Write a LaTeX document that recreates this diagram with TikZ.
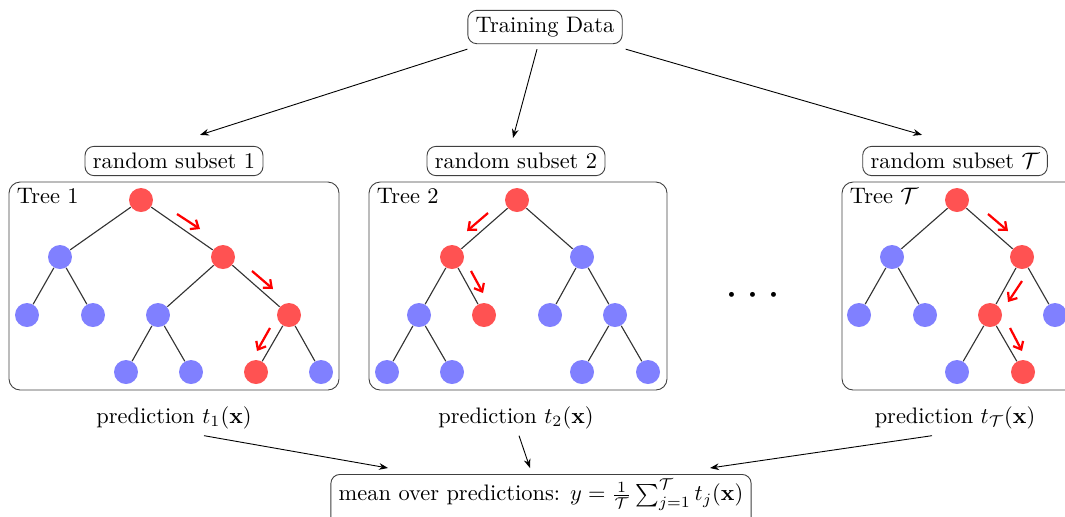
\documentclass[tikz,border=0pt]{standalone}
\usetikzlibrary{calc,arrows.meta}
\definecolor{nred}{HTML}{FF5252}
\definecolor{nblue}{HTML}{8080FF}
\begin{document}
\begin{tikzpicture}[x=0.446pt,y=-0.446pt,
  box/.style={draw=black!75, rounded corners=4pt, inner xsep=3.5pt, inner ysep=3pt, fill=white},
  treebox/.style={draw=black!75, rounded corners=5pt},
  rn/.style={circle, fill=nred, minimum size=10.7pt, inner sep=0pt},
  bn/.style={circle, fill=nblue, minimum size=10.7pt, inner sep=0pt},
  edge/.style={draw=black!80, line width=0.5pt},
  conn/.style={-{Stealth[length=4pt,width=3pt]}, black, line width=0.4pt},
  walk/.style={-{Straight Barb[length=3pt,width=5pt]}, red, line width=1pt},
  pred/.style={inner sep=0pt}]
\clip (0,0) rectangle (1065,516);
% top
\node[box] (td) at (545,27) {Training Data};
\node[box] (s1) at (174,161) {random subset 1};
\node[box] (s2) at (516,161) {random subset 2};
\node[box] (sT) at (955,161) {random subset $\mathcal{T}$};
\draw[conn] ($(td.south west)+(0,5)$) -- ($(s1.north)+(26,-11)$);
\draw[conn] ($(td.south)+(-8,5)$) -- ($(s2.north)+(-3,-8)$);
\draw[conn] ($(td.south east)+(3,5)$) -- ($(sT.north)+(-33,-11)$);
% tree boxes
\draw[treebox] (9,182) rectangle (339,390);
\draw[treebox] (369,182) rectangle (667,390);
\draw[treebox] (842,182) rectangle (1090,390);
\node[anchor=west] (l1) at (9,196) {Tree 1};
\node[anchor=west] (l2) at (369,196) {Tree 2};
\node[anchor=west] (lT) at (842,196) {Tree $\mathcal{T}$};
% tree 1
\node[rn] (a0) at (141,200) {};
\node[bn] (a1) at (60,257) {};
\node[rn] (a2) at (223,257) {};
\node[bn] (a3) at (27,315) {};
\node[bn] (a4) at (93,315) {};
\node[bn] (a5) at (158,315) {};
\node[rn] (a6) at (289,315) {};
\node[bn] (a7) at (126,372) {};
\node[bn] (a8) at (191,372) {};
\node[rn] (a9) at (256,372) {};
\node[bn] (a10) at (321,372) {};
\foreach \u/\v in {a0/a1,a0/a2,a1/a3,a1/a4,a2/a5,a2/a6,a5/a7,a5/a8,a6/a9,a6/a10}
  \draw[edge] (\u) -- (\v);
\draw[walk] (177,214) -- (200,229);
\draw[walk] (252,271) -- (273,289);
\draw[walk] (270,328) -- (257,351);
% tree 2
\node[rn] (b0) at (517,200) {};
\node[rn] (b1) at (452,257) {};
\node[bn] (b2) at (582,257) {};
\node[bn] (b3) at (419,315) {};
\node[rn] (b4) at (484,315) {};
\node[bn] (b5) at (550,315) {};
\node[bn] (b6) at (615,315) {};
\node[bn] (b7) at (387,372) {};
\node[bn] (b8) at (452,372) {};
\node[bn] (b9) at (582,372) {};
\node[bn] (b10) at (648,372) {};
\foreach \u/\v in {b0/b1,b0/b2,b1/b3,b1/b4,b2/b5,b2/b6,b3/b7,b3/b8,b6/b9,b6/b10}
  \draw[edge] (\u) -- (\v);
\draw[walk] (488,213) -- (467,231);
\draw[walk] (471,271) -- (483,293);
% tree T
\node[rn] (c0) at (957,200) {};
\node[bn] (c1) at (892,257) {};
\node[rn] (c2) at (1022,257) {};
\node[bn] (c3) at (859,315) {};
\node[bn] (c4) at (925,315) {};
\node[rn] (c5) at (990,315) {};
\node[bn] (c6) at (1055,315) {};
\node[bn] (c7) at (957,372) {};
\node[rn] (c8) at (1023,372) {};
\foreach \u/\v in {c0/c1,c0/c2,c1/c3,c1/c4,c2/c5,c2/c6,c5/c7,c5/c8}
  \draw[edge] (\u) -- (\v);
\draw[walk] (988,214) -- (1008,231);
\draw[walk] (1022,281) -- (1008,302);
\draw[walk] (1010,328) -- (1022,351);
% dots
\node (dots) at (753,296) {\huge $\cdots$};
% predictions
\node[pred] (p1) at (174,418) {prediction $t_1(\mathbf{x})$};
\node[pred] (p2) at (516,418) {prediction $t_2(\mathbf{x})$};
\node[pred] (pT) at (955,418) {prediction $t_{\mathcal{T}}(\mathbf{x})$};
\node[box, inner ysep=2pt, text depth=10pt, anchor=north] (m) at (541,474) {mean over predictions: $y=\frac{1}{\mathcal{T}}\sum_{j=1}^{\mathcal{T}} t_j(\mathbf{x})$};
\draw[conn] ($(p1.south)+(30,6)$) -- ($(m.north)+(-153,-6)$);
\draw[conn] ($(p2.south)+(3,6)$) -- ($(m.north)+(-11,-6)$);
\draw[conn] ($(pT.south)+(-23,6)$) -- ($(m.north)+(169,-6)$);
\end{tikzpicture}
\end{document}
